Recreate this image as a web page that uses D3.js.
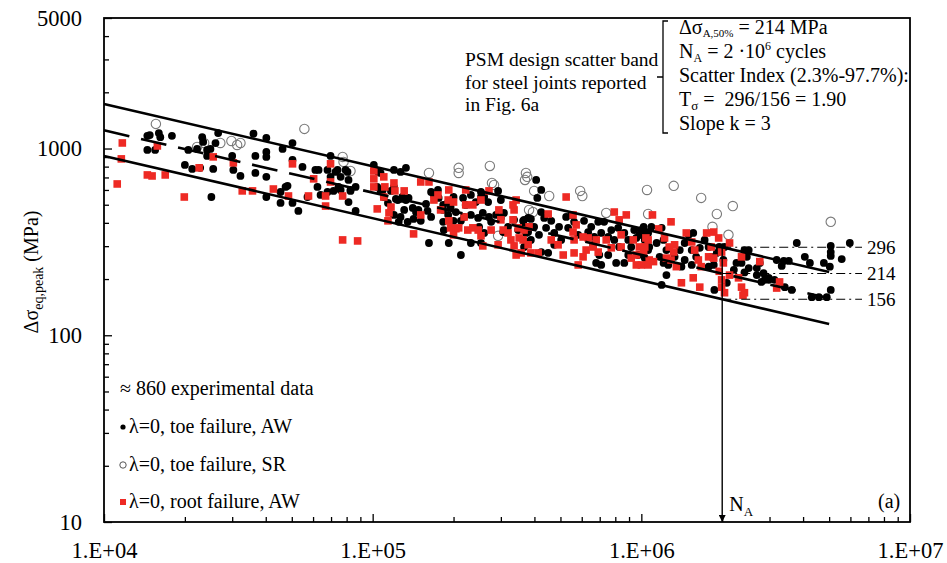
<!DOCTYPE html>
<html><head><meta charset="utf-8">
<script src="https://cdn.jsdelivr.net/npm/d3@7"></script>
<style>
body{margin:0;background:#fff;}
</style></head><body>
<svg id="chart" width="947" height="563" font-family="Liberation Serif, Times New Roman, serif"></svg>
<script>
// ---- axis ticks ----
const xTicks = [1e4, 1e5, 1e6, 1e7];
const xTickLabels = ["1.E+04", "1.E+05", "1.E+06", "1.E+07"];
const yTicks = [10, 100, 1000, 5000];
const yTickLabels = ["10", "100", "1000", "5000"];

// ---- PSM design scatter band (k = 3, reference N_A = 2e6 cycles) ----
const bandRefN = 2e6;
const bandSlope = 3;
const bandLevels = [296, 214, 156];          // upper 97.7%, median 50%, lower 2.3%
const bandLevelLabels = ["296", "214", "156"];
const bandRangeN = [1e4, 5e6];

// ---- experimental data [cycles N, Δσ_eq,peak MPa] ----
const toeAW = [
[1.45e4,1170],[1.48e4,1180],[1.60e4,1210],[1.62e4,1150],[1.79e4,1170],[1.45e4,983],[1.55e4,983],[2.06e4,983],[2.22e4,995],[2.32e4,1150],[2.34e4,1085],[2.42e4,983],[2.49e4,995],[2.66e4,1210],[2.60e4,1070],[2.42e4,913],[2.00e4,817],[2.13e4,778],[2.28e4,788],[2.55e4,778],[2.51e4,550],[3.00e4,913],[3.03e4,768],[3.22e4,713],[3.60e4,1200],[3.66e4,913],[3.66e4,740],[4.02e4,1140],[4.02e4,959],[4.02e4,902],[4.02e4,705],[4.62e4,995],[5.03e4,1070],[5.03e4,869],[5.48e4,797],[4.74e4,623],[4.54e4,585],[4.54e4,511],[4.02e4,550],[5.03e4,511],[5.29e4,463],[6.12e4,768],[6.29e4,768],[6.23e4,623],[6.79e4,768],[6.97e4,913],[6.97e4,705],[6.79e4,585],[7.40e4,768],[7.60e4,705],[7.60e4,600],[8.06e4,749],[8.13e4,679],[8.27e4,600],[8.13e4,517],[8.64e4,623],[8.64e4,463],
[1.01e5,817],[1.05e5,749],[1.09e5,600],[1.10e5,550],[1.14e5,511],[1.20e5,768],[1.20e5,623],[1.20e5,441],[1.25e5,405],[1.24e5,530],[5.72e4,550],[4.82e4,631],[7.27e4,749],[7.93e4,768],[7.46e4,623],[7.15e4,593],[6.40e4,564],[8.27e4,593],[1.07e5,740],[1.33e5,788],[1.04e5,623],[1.07e5,593],[1.17e5,593],[1.22e5,537],[1.29e5,537],[1.31e5,469],[1.35e5,405],[1.27e5,430],
[1.27e5,749],[1.29e5,550],[1.33e5,530],[1.36e5,544],[1.41e5,481],[1.45e5,457],[1.48e5,469],[1.58e5,505],[1.60e5,463],[1.65e5,585],[1.69e5,564],[1.75e5,600],[1.76e5,544],[1.65e5,430],[1.51e5,410],[1.42e5,420],[1.83e5,499],[1.83e5,469],[1.91e5,517],[1.95e5,486],[2.00e5,550],[2.04e5,457],[2.17e5,544],[2.22e5,499],[2.32e5,564],[2.42e5,517],[2.53e5,585],[2.60e5,550],[2.69e5,517],[2.71e5,430],[2.57e5,452],[2.47e5,425],[2.32e5,441],[2.19e5,430],[2.13e5,410],[2.00e5,410],[1.91e5,441],[1.83e5,405],[1.84e5,366],[2.49e5,381],[2.60e5,353],[2.76e5,405],[2.88e5,441],[3.00e5,425],[3.08e5,452],[3.19e5,381],[3.06e5,357],[3.36e5,415],[3.48e5,366],[3.63e5,410],[3.79e5,425],[3.72e5,353],[3.79e5,316],[1.62e5,312],[1.92e5,312],[2.13e5,269],[2.32e5,312],[2.53e5,312],[3.00e5,530],[2.93e5,593],[2.53e5,550],
[4.06e5,679],[4.24e5,600],[4.10e5,544],[4.24e5,457],[3.88e5,420],[3.66e5,415],[3.63e5,381],[3.79e5,357],[3.99e5,381],[4.16e5,345],[3.88e5,324],[3.66e5,297],[4.35e5,425],[4.42e5,376],[4.62e5,410],[4.74e5,353],[4.94e5,381],[5.03e5,324],[4.50e5,276],[4.24e5,279],[4.74e5,305],[5.25e5,430],[5.34e5,376],[5.48e5,441],[5.62e5,405],[5.82e5,345],[6.12e5,410],[6.34e5,357],[6.51e5,381],[6.68e5,336],[6.62e5,305],[6.91e5,405],[7.09e5,353],[6.97e5,269],[6.79e5,244],[7.09e5,238],[7.27e5,405],[7.53e5,336],[7.53e5,269],[7.73e5,366],[7.93e5,324],[8.20e5,376],[8.27e5,297],[8.06e5,244],[8.64e5,353],[8.94e5,324],[9.17e5,297],[9.41e5,366],[9.58e5,332],[9.83e5,345],[1.02e6,381],[1.04e6,332],[1.06e6,286],[1.03e6,259],[9.74e5,269],[8.64e5,244],[8.94e5,269],
[1.00e6,366],[1.09e6,381],[1.19e6,376],[1.03e6,324],[1.07e6,297],[1.14e6,312],[1.21e6,324],[1.24e6,286],[1.17e6,263],[1.21e6,244],[1.26e6,238],[1.24e6,210],[1.33e6,263],[1.39e6,286],[1.45e6,312],[1.50e6,345],[1.56e6,353],[1.54e6,286],[1.45e6,253],[1.41e6,233],[1.54e6,238],[1.60e6,263],[1.65e6,294],[1.72e6,324],[1.78e6,297],[1.82e6,263],[1.78e6,233],[1.86e6,238],[1.91e6,276],[1.95e6,297],[2.04e6,297],[2.02e6,253],[1.87e6,175],[2.08e6,191],[2.21e6,224],[2.26e6,244],[2.36e6,244],[2.51e6,229],[2.69e6,229],[2.76e6,244],[2.69e6,210],[2.80e6,193],[2.88e6,198],[2.98e6,203],[2.51e6,286],[2.42e6,286],[2.47e6,263],[1.19e6,186],[1.06e6,353],[1.00e6,345],[1.04e6,357],
[3.79e6,312],[5.07e6,301],[5.07e6,279],[5.07e6,266],[5.97e6,312],[5.57e6,256],[4.06e6,263],[4.24e6,244],[4.78e6,244],[5.03e6,233],[3.19e6,253],[3.39e6,250],[3.33e6,235],[3.54e6,250],[2.85e6,215],[2.98e6,198],[3.13e6,198],[3.42e6,181],[3.63e6,175],[4.31e6,160],[4.58e6,160],[4.90e6,160],[5.07e6,175],[2.42e6,217]
];

const toeSR = [
[1.56e4,1355],[2.22e4,1020],[2.36e4,1071],[2.71e4,1071],[2.98e4,1098],[3.13e4,1045],[3.22e4,1071],[5.57e4,1274],[7.73e4,902],[7.79e4,848],[8.27e4,758],[1.62e5,740],[2.09e5,788],[2.09e5,740],[2.73e5,807],[2.78e5,654],[2.83e5,638],[3.69e5,679],[3.76e5,705],[3.82e5,469],[3.72e5,740],[3.99e5,593],[4.54e5,557],[5.92e5,593],[6.03e5,557],[7.40e5,452],[1.05e6,600],[1.06e6,446],[3.95e5,457],[1.32e6,631],[1.67e6,544],[1.91e6,446],[2.19e6,492],[1.84e6,381],[2.11e6,345],[5.07e6,405],[2.93e5,341]
];

const rootAW = [
[1.17e4,1071],[1.16e4,880],[1.12e4,646],[1.45e4,722],[1.51e4,713],[1.69e4,722],[1.58e4,1032],[1.99e4,550],[2.26e4,788],[2.55e4,902],[3.03e4,838],[3.27e4,593],[3.57e4,593],[4.27e4,607],[4.86e4,557],[5.03e4,828],[5.77e4,557],[6.03e4,688],[6.68e4,557],[6.97e4,828],[6.97e4,662],[6.68e4,492],[7.73e4,557],[7.73e4,324],[8.79e4,320],[1.01e5,758],[1.01e5,688],[1.01e5,623],[1.10e5,705],[1.11e5,623],[1.20e5,654],[1.21e5,593],[1.10e5,550],[1.04e5,475],[1.17e5,486],[1.15e5,452],[1.14e5,410],[1.31e5,593],
[1.51e5,662],[1.62e5,662],[1.69e5,530],[1.75e5,564],[1.92e5,600],[1.91e5,530],[2.00e5,517],[2.22e5,600],[2.22e5,499],[2.36e5,499],[2.53e5,530],[2.71e5,593],[1.79e5,469],[1.51e5,441],[1.42e5,349],[1.92e5,410],[1.95e5,376],[2.04e5,372],[2.00e5,345],[2.09e5,376],[2.19e5,430],[2.26e5,366],[2.36e5,376],[2.47e5,366],[2.53e5,341],[2.57e5,301],[2.76e5,366],[2.95e5,469],[3.00e5,415],[3.06e5,366],[2.93e5,305],[3.19e5,353],[3.27e5,324],[3.36e5,469],[3.33e5,499],[3.42e5,530],[3.48e5,376],[3.51e5,332],[3.36e5,301],[3.42e5,269],[3.57e5,276],[3.79e5,305],[3.66e5,366],[3.82e5,381],[3.33e5,415],
[5.25e5,550],[4.50e5,446],[3.63e5,324],[3.88e5,276],[4.13e5,276],[4.62e5,324],[4.90e5,305],[5.12e5,269],[5.57e5,441],[5.72e5,390],[5.57e5,357],[5.62e5,324],[5.62e5,276],[5.82e5,238],[6.07e5,263],[6.34e5,332],[6.62e5,297],[6.91e5,279],[7.93e5,457],[8.27e5,415],[8.79e5,441],[8.41e5,345],[7.40e5,324],[7.73e5,294],[8.41e5,297],[9.33e5,324],[9.83e5,297],[9.58e5,269],[9.17e5,259],[1.02e6,279],[1.06e6,324],[1.07e6,253],[1.00e6,238],[9.58e5,238],[6.79e5,324],[6.07e5,336],[6.23e5,286],
[1.10e6,441],[1.29e6,405],[1.16e6,371],[1.22e6,332],[1.04e6,332],[1.03e6,297],[1.06e6,238],[1.11e6,248],[1.27e6,297],[1.32e6,279],[1.33e6,305],[1.29e6,253],[1.35e6,233],[1.47e6,353],[1.54e6,316],[1.58e6,286],[1.63e6,253],[1.67e6,233],[1.56e6,203],[1.65e6,181],[1.41e6,191],[1.75e6,353],[1.82e6,297],[1.86e6,259],[1.86e6,357],[1.94e6,332],[1.99e6,279],[2.02e6,244],[1.99e6,198],[1.99e6,181],[2.04e6,169],[2.13e6,312],[2.13e6,210],[1.95e6,220],[2.36e6,181],[2.42e6,169],[2.36e6,263],[2.30e6,203],[2.76e6,248],[1.78e6,263],[1.24e6,259],[3.27e6,193],[3.19e6,179],[2.39e6,164]
];

// ---- legend entries ----
const legendTitle = "\u2248 860 experimental data";
const legendItems = ["\u03bb=0, toe failure, AW", "\u03bb=0, toe failure, SR", "\u03bb=0, root failure, AW"];

// ---- drawing ----
const RED = "#ee2a24";
const FONT = "Liberation Serif, Times New Roman, serif";
const svg = d3.select("#chart");
const plotL = 104, plotR = 910, plotT = 18, plotB = 522;

const x = d3.scaleLog().domain([1e4, 1e7]).range([plotL, plotR]);
const y = d3.scaleLog().domain([10, 5000]).range([plotB, plotT]);

const minorX = [];
for (const d of [1e4, 1e5, 1e6]) for (let k = 2; k <= 9; k++) minorX.push(d * k);
const minorY = [];
for (const d of [10, 100, 1000]) for (let k = 2; k <= 9; k++) if (d * k < 5000) minorY.push(d * k);

// data markers
const gPts = svg.append("g");
gPts.selectAll("circle.sr").data(toeSR).join("circle")
  .attr("cx", d => x(d[0])).attr("cy", d => y(d[1])).attr("r", 4.7)
  .attr("fill", "none").attr("stroke", "#7a7a7a").attr("stroke-width", 1.1);
gPts.selectAll("circle.aw").data(toeAW).join("circle")
  .attr("cx", d => x(d[0])).attr("cy", d => y(d[1])).attr("r", 3.9)
  .attr("fill", "#000");
gPts.selectAll("rect.root").data(rootAW).join("rect")
  .attr("x", d => x(d[0]) - 3.8).attr("y", d => y(d[1]) - 3.8)
  .attr("width", 7.6).attr("height", 7.6).attr("fill", RED);

// scatter band lines
const bandAt = (s, n) => s * Math.pow(n / bandRefN, -1 / bandSlope);
const gBand = svg.append("g");
bandLevels.forEach((s, i) => {
  gBand.append("line")
    .attr("x1", x(bandRangeN[0])).attr("y1", y(bandAt(s, bandRangeN[0])))
    .attr("x2", x(bandRangeN[1])).attr("y2", y(bandAt(s, bandRangeN[1])))
    .attr("stroke", "#000").attr("stroke-width", 2.6)
    .attr("stroke-dasharray", i === 1 ? "26,12" : null);
});

// dash-dot reference levels at N_A
bandLevels.forEach((s, i) => {
  gBand.append("line")
    .attr("x1", x(bandRefN)).attr("x2", 862)
    .attr("y1", y(s)).attr("y2", y(s))
    .attr("stroke", "#000").attr("stroke-width", 1.1)
    .attr("stroke-dasharray", "9,4,2,4");
  svg.append("text").attr("x", 867).attr("y", y(s)).attr("dy", "0.35em")
    .attr("font-size", 19).text(bandLevelLabels[i]);
});

// N_A arrow
svg.append("defs").append("marker").attr("id", "arrow")
  .attr("viewBox", "0 0 10 10").attr("refX", 10).attr("refY", 5)
  .attr("markerWidth", 7).attr("markerHeight", 7).attr("markerUnits", "userSpaceOnUse")
  .attr("orient", "auto")
  .append("path").attr("d", "M0,0 L10,5 L0,10 Z").attr("fill", "#000");
svg.append("line")
  .attr("x1", x(bandRefN)).attr("x2", x(bandRefN))
  .attr("y1", y(310)).attr("y2", plotB)
  .attr("stroke", "#000").attr("stroke-width", 1.4)
  .attr("marker-end", "url(#arrow)");
const na = svg.append("text").attr("x", x(bandRefN) + 7).attr("y", 511).attr("font-size", 20);
na.append("tspan").text("N");
na.append("tspan").attr("font-size", 13).attr("dy", 5).text("A");

// frame
svg.append("rect").attr("x", plotL).attr("y", plotT).attr("width", plotR - plotL).attr("height", plotB - plotT)
  .attr("fill", "none").attr("stroke", "#000").attr("stroke-width", 1.8);

// axes
const styleAxis = g => { g.select(".domain").remove(); g.selectAll("line").attr("stroke", "#000").attr("stroke-width", 1.3); };
svg.append("g").attr("transform", `translate(0,${plotB})`)
  .call(d3.axisBottom(x).tickValues(minorX).tickSize(-5).tickFormat(""))
  .call(styleAxis);
svg.append("g").attr("transform", `translate(0,${plotB})`)
  .call(d3.axisBottom(x).tickValues(xTicks).tickSize(-8).tickPadding(20)
    .tickFormat((d, i) => xTickLabels[i]))
  .call(styleAxis)
  .call(g => g.selectAll("text").attr("font-size", 22.5));
svg.append("g").attr("transform", `translate(${plotL},0)`)
  .call(d3.axisLeft(y).tickValues(minorY).tickSize(-5).tickFormat(""))
  .call(styleAxis);
svg.append("g").attr("transform", `translate(${plotL},0)`)
  .call(d3.axisLeft(y).tickValues(yTicks).tickSize(-8).tickPadding(22)
    .tickFormat((d, i) => yTickLabels[i]))
  .call(styleAxis)
  .call(g => g.selectAll("text").attr("font-size", 22.5));

// y axis title
const yt = svg.append("text").attr("transform", "translate(38,272) rotate(-90)")
  .attr("text-anchor", "middle").attr("font-size", 20);
yt.append("tspan").text("\u0394\u03c3");
yt.append("tspan").attr("font-size", 14).attr("dy", 5).text("eq,peak");
yt.append("tspan").attr("dy", -5).text(" (MPa)");

// legend
svg.append("text").attr("x", 120).attr("y", 395).attr("font-size", 20).text(legendTitle);
const legY = [433, 471, 508];
svg.append("circle").attr("cx", 123).attr("cy", legY[0] - 6).attr("r", 2.6).attr("fill", "#000");
svg.append("circle").attr("cx", 123).attr("cy", legY[1] - 6).attr("r", 3.2).attr("fill", "none").attr("stroke", "#555").attr("stroke-width", 1);
svg.append("rect").attr("x", 120).attr("y", legY[2] - 9).attr("width", 6).attr("height", 6).attr("fill", RED);
legendItems.forEach((t, i) => svg.append("text").attr("x", 129).attr("y", legY[i]).attr("font-size", 20).text(t));

// annotation
["PSM design scatter band", "for steel joints reported", "in Fig. 6a"].forEach((t, i) =>
  svg.append("text").attr("x", 465).attr("y", 66 + i * 22.5).attr("font-size", 19.5).text(t));
svg.append("path").attr("d", "M668,21 L663,21 L663,133 L668,133 M663,77 L657,77")
  .attr("fill", "none").attr("stroke", "#000").attr("stroke-width", 1.3);

const ax = 679;
const l1 = svg.append("text").attr("x", ax).attr("y", 34).attr("font-size", 20);
l1.append("tspan").text("\u0394\u03c3");
l1.append("tspan").attr("font-size", 11).attr("dy", 3).text("A,50%");
l1.append("tspan").attr("dy", -3).text(" = 214 MPa");
const l2 = svg.append("text").attr("x", ax).attr("y", 58).attr("font-size", 20);
l2.append("tspan").text("N");
l2.append("tspan").attr("font-size", 12).attr("dy", 4).text("A");
l2.append("tspan").attr("dy", -4).text(" = 2 \u00b710");
l2.append("tspan").attr("font-size", 12).attr("dy", -8).text("6");
l2.append("tspan").attr("dy", 8).text(" cycles");
svg.append("text").attr("x", ax).attr("y", 82).attr("font-size", 20).text("Scatter Index (2.3%-97.7%):");
const l4 = svg.append("text").attr("x", ax).attr("y", 106).attr("font-size", 20);
l4.append("tspan").text("T");
l4.append("tspan").attr("font-size", 13).attr("dy", 4).text("\u03c3");
l4.append("tspan").attr("dy", -4).text(" =\u00a0 296/156 = 1.90");
svg.append("text").attr("x", ax).attr("y", 130).attr("font-size", 20).text("Slope k = 3");

svg.append("text").attr("x", 878).attr("y", 508).attr("font-size", 20).text("(a)");

// one serif face for every label
svg.selectAll("text").attr("font-family", FONT).attr("fill", "#000");
</script>
</body></html>
